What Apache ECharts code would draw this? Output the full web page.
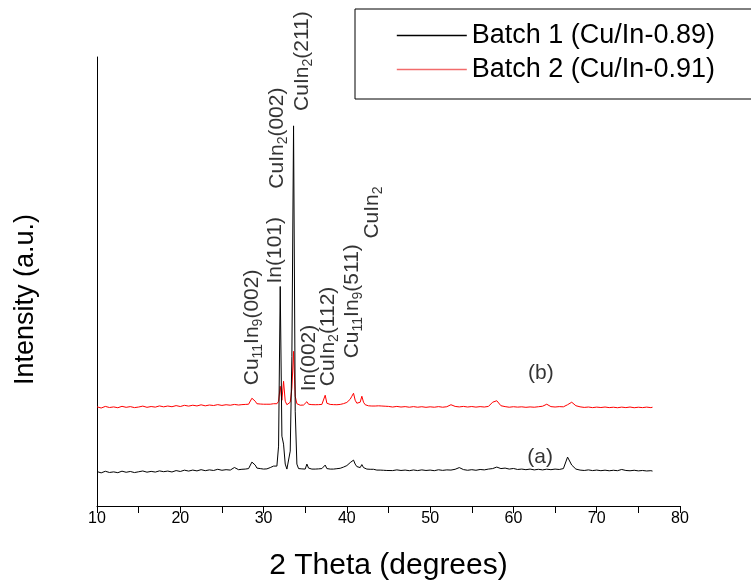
<!DOCTYPE html>
<html>
<head>
<meta charset="utf-8">
<script src="https://cdn.jsdelivr.net/npm/echarts@6/dist/echarts.min.js"></script>
<style>
html,body{margin:0;padding:0;background:#fff;}
#chart{width:751px;height:586px;}
</style>
</head>
<body>
<div id="chart"></div>
<script>
// ---- 2-theta sample positions (degrees) ----
const thetaLow = [10, 10.5, 11, 11.5, 12, 12.5, 13, 13.5, 14, 14.5,
  15, 15.5, 16, 16.5, 17, 17.5, 18, 18.5, 19, 19.5,
  20, 20.5, 21, 21.5, 22, 22.5, 23, 23.5, 24, 24.5,
  25, 25.5, 26, 26.5, 27];
const thetaPeak = [27.2, 27.4, 27.6, 27.8, 28.0, 28.2, 28.4, 28.6, 28.8, 29.0,
  29.2, 29.4, 29.6, 29.8, 30.0, 30.2, 30.4, 30.6, 30.8, 31.0,
  31.2, 31.4, 31.6, 31.8, 32.0, 32.2, 32.4, 32.6, 32.8, 33.0,
  33.2, 33.4, 33.6, 33.8, 34.0, 34.2, 34.4, 34.6, 34.8, 35.0,
  35.2, 35.4, 35.6, 35.8, 36.0, 36.2, 36.4, 36.6, 36.8, 37.0,
  37.2, 37.4, 37.6, 37.8, 38.0, 38.2, 38.4, 38.6, 38.8, 39.0,
  39.2, 39.4, 39.6, 39.8, 40.0, 40.2, 40.4, 40.6, 40.8, 41.0,
  41.2, 41.4, 41.6, 41.8, 42.0, 42.2, 42.4, 42.6, 42.8, 43.0,
  43.2, 43.4, 43.6, 43.8, 44.0, 44.2, 44.4, 44.6, 44.8, 45.0];
const thetaHigh = [45.5, 46, 46.5, 47, 47.5, 48, 48.5, 49, 49.5, 50,
  50.5, 51, 51.5, 52, 52.5, 53, 53.5, 54, 54.5, 55,
  55.5, 56, 56.5, 57, 57.5, 58, 58.5, 59, 59.5, 60,
  60.5, 61, 61.5, 62, 62.5, 63, 63.5, 64, 64.5, 65,
  65.5, 66, 66.5, 67, 67.5, 68, 68.5, 69, 69.5, 70,
  70.5, 71, 71.5, 72, 72.5, 73, 73.5, 74, 74.5, 75,
  75.5, 76, 76.5, 76.7];

// ---- Batch 1 (black, pattern a) intensities (a.u., offset stacked) ----
const batch1Low = [34.5, 33.2, 34.8, 33.6, 34.2, 33.4, 34.9, 33.8, 34.6, 33.5,
  34.3, 35.1, 33.9, 34.7, 34.0, 35.2, 34.4, 35.0, 34.1, 35.5,
  34.6, 35.9, 35.0, 36.0, 35.2, 36.4, 35.4, 36.2, 35.6, 36.8,
  35.8, 36.4, 36.0, 38.6, 36.4];
const batch1Peak = [36, 36.8, 36.2, 37, 36.5, 37.5, 39, 44, 46, 41,
  38, 37, 37.5, 36.5, 37, 36.6, 37.2, 36.8, 38.5, 37.5,
  40, 38.5, 40, 60, 220, 70, 62, 42, 37, 39,
  55, 150, 381, 95, 42, 37.5, 36.5, 37.2, 36.6, 37,
  42, 38, 36.8, 37, 36.4, 37, 36.5, 37.2, 36.8, 37.5,
  37.8, 41, 37.5, 36.8, 37, 36.5, 37, 36.8, 37.4, 37,
  37.8, 38, 39, 39.5, 40.5, 42, 43.5, 45, 46, 42,
  39.5, 38.5, 38.5, 41.5, 38.5, 37.5, 37, 36.5, 36.8, 36.2,
  36.8, 36.4, 36, 36.6, 36, 36.4, 35.8, 36.2, 35.6, 36];
const batch1High = [35.5, 36.2, 35.6, 36, 35.4, 36.1, 35.5, 36.2, 35.6, 36,
  35.4, 36.3, 35.7, 36.2, 36, 36.8, 38.5, 36.5, 35.8, 36.4,
  35.8, 36.6, 36.2, 37, 37.5, 39, 37.5, 38, 37, 37.6,
  36.6, 37, 36.4, 37, 36.2, 36.8, 36.2, 36.9, 36.4, 37,
  36.6, 37.5, 49, 41, 37, 36, 35.6, 36.2, 35.5, 36,
  35.4, 35.9, 35.3, 35.8, 35.4, 36.6, 35.6, 35.3, 35.8, 35.2,
  35.6, 35.1, 35.4, 35];

// ---- Batch 2 (red, pattern b) intensities ----
const batch2Low = [99.4, 98.2, 99.8, 98.7, 99.3, 98.5, 99.9, 98.9, 99.6, 98.6,
  99.2, 100.1, 98.9, 99.7, 99.1, 100.3, 99.4, 100.2, 99.5, 100.6,
  99.7, 100.9, 100.1, 101.0, 100.3, 101.4, 100.4, 101.2, 100.7, 101.6,
  100.8, 101.5, 101.0, 101.8, 101.2];
const batch2Peak = [101, 101.6, 101.2, 101.8, 101.3, 102, 103.5, 108, 110, 105,
  102.5, 101.8, 102.2, 101.4, 102, 101.5, 102, 101.4, 102, 101.5,
  102.5, 101.8, 102.5, 105, 120, 106, 125, 105, 101.5, 102,
  104, 118, 155, 110, 102.5, 101.5, 101, 101.8, 101.2, 101.8,
  104.5, 102, 101.2, 101.6, 101, 101.5, 101, 101.6, 101.2, 101.8,
  103, 111, 103, 101.5, 101.8, 101.2, 101.6, 101, 101.5, 101.2,
  101.8, 102, 102.6, 103, 103.8, 105, 107, 110, 113, 106,
  103, 102.5, 104, 110, 104, 101.5, 100.8, 100.4, 100.8, 100.2,
  100.8, 100.2, 99.8, 100.4, 99.8, 100.2, 99.6, 100, 99.4, 99.8];
const batch2High = [99.2, 99.8, 99.2, 99.6, 99, 99.6, 99, 99.5, 98.9, 99.4,
  99, 99.6, 99, 99.5, 101.5, 99.8, 99.3, 99.8, 99.2, 99.7,
  99.1, 99.6, 99.2, 99.8, 104, 105.5, 100.5, 99.6, 99, 99.5,
  99.1, 99.4, 98.9, 99.3, 99, 99.5, 100, 102, 99.6, 99.2,
  99.6, 99.4, 101.5, 104, 100.5, 99.4, 98.8, 99.2, 98.6, 99.1,
  98.7, 99.2, 98.6, 99, 98.5, 99.1, 98.6, 99.2, 98.5, 99,
  98.6, 99.1, 98.6, 99];

// ---- series names and colours ----
const seriesNames = ['Batch 1 (Cu/In-0.89)', 'Batch 2 (Cu/In-0.91)'];
const seriesColors = ['#000000', '#ff0000'];
const legendLineColors = ['#000000', '#f26b6b'];

// ---- peak annotations: [2theta, intensity, text] (text starts at point, rotated) ----
const peakLabelTheta = [28.6, 31.36, 31.6, 34.6, 35.44, 37.72, 40.6, 43.0];
const peakLabelIntensity = [121, 223, 318, 396, 115, 120, 148, 268];
const peakLabelText = ['Cu{s|11}In{s|9}(002)', 'In(101)', 'CuIn{s|2}(002)', 'CuIn{s|2}(211)',
  'In(002)', 'CuIn{s|2}(112)', 'Cu{s|11}In{s|9}(511)', 'CuIn{s|2}'];

// ---- pattern tags ----
const tagTheta = [63.2, 63.3];
const tagIntensity = [49, 133];
const tagText = ['(a)', '(b)'];

// ---- x-axis ticks ----
const xMin = 10, xMax = 80, xStep = 10;

const theta = thetaLow.concat(thetaPeak, thetaHigh);
const batch1 = batch1Low.concat(batch1Peak, batch1High);
const batch2 = batch2Low.concat(batch2Peak, batch2High);

const FONT = '"Liberation Sans", Arial, Helvetica, sans-serif';

const chart = echarts.init(document.getElementById('chart'), null, {renderer: 'canvas'});
chart.setOption({
  animation: false,
  backgroundColor: '#fff',
  textStyle: {fontFamily: FONT, color: '#000'},
  grid: {left: 97, right: 71, top: 57, bottom: 78, containLabel: false},
  legend: {
    data: seriesNames.map((n, i) => ({
      name: n,
      itemStyle: {opacity: 0, color: legendLineColors[i]},
      lineStyle: {color: legendLineColors[i], width: 1.6, opacity: 1}
    })),
    orient: 'vertical',
    left: 355, top: 9,
    padding: [13, 60, 16, 41],
    itemWidth: 70, itemHeight: 10, itemGap: 7,
    borderColor: '#000', borderWidth: 1,
    textStyle: {fontFamily: FONT, fontSize: 27, color: '#000'}
  },
  xAxis: {
    type: 'value', min: xMin, max: xMax, interval: xStep,
    name: '2 Theta (degrees)', nameLocation: 'middle', nameGap: 45,
    nameTextStyle: {fontFamily: FONT, fontSize: 30, color: '#000'},
    axisLine: {show: true, onZero: false, lineStyle: {color: '#000', width: 1}},
    axisTick: {show: true, length: 7, lineStyle: {color: '#000'}},
    minorTick: {show: true, splitNumber: 2, length: 7, lineStyle: {color: '#000'}},
    axisLabel: {fontFamily: FONT, fontSize: 16, color: '#000', margin: 5},
    splitLine: {show: false}
  },
  yAxis: {
    type: 'value', min: 0, max: 450,
    name: 'Intensity (a.u.)', nameLocation: 'middle', nameRotate: 90, nameGap: 58,
    nameTextStyle: {fontFamily: FONT, fontSize: 27, color: '#000', padding: [0, 36, 0, 0]},
    axisLine: {show: true, onZero: false, lineStyle: {color: '#000', width: 1}},
    axisTick: {show: false}, axisLabel: {show: false}, splitLine: {show: false}
  },
  series: [
    {
      name: seriesNames[0], type: 'line', symbol: 'none', showSymbol: false,
      color: seriesColors[0],
      lineStyle: {width: 1, color: seriesColors[0]},
      data: theta.map((t, i) => [t, batch1[i]]), z: 3
    },
    {
      name: seriesNames[1], type: 'line', symbol: 'none', showSymbol: false,
      color: seriesColors[1],
      lineStyle: {width: 1, color: seriesColors[1]},
      data: theta.map((t, i) => [t, batch2[i]]), z: 2
    },
    {
      name: 'peaks', type: 'scatter', symbolSize: 1, silent: true,
      itemStyle: {color: 'rgba(0,0,0,0)'},
      label: {
        show: true, position: 'inside', rotate: 90, align: 'left', verticalAlign: 'middle',
        fontFamily: FONT, fontSize: 21, lineHeight: 27, color: '#000',
        formatter: p => peakLabelText[p.dataIndex],
        rich: {s: {fontFamily: FONT, fontSize: 14, lineHeight: 15, verticalAlign: 'bottom', color: '#000'}}
      },
      data: peakLabelTheta.map((t, i) => [t, peakLabelIntensity[i]]), z: 5
    },
    {
      name: 'tags', type: 'scatter', symbolSize: 1, silent: true,
      itemStyle: {color: 'rgba(0,0,0,0)'},
      label: {
        show: true, position: 'inside', align: 'center', verticalAlign: 'middle',
        fontFamily: FONT, fontSize: 21, color: '#000',
        formatter: p => tagText[p.dataIndex]
      },
      data: tagTheta.map((t, i) => [t, tagIntensity[i]]), z: 5
    }
  ]
});
</script>
</body>
</html>
